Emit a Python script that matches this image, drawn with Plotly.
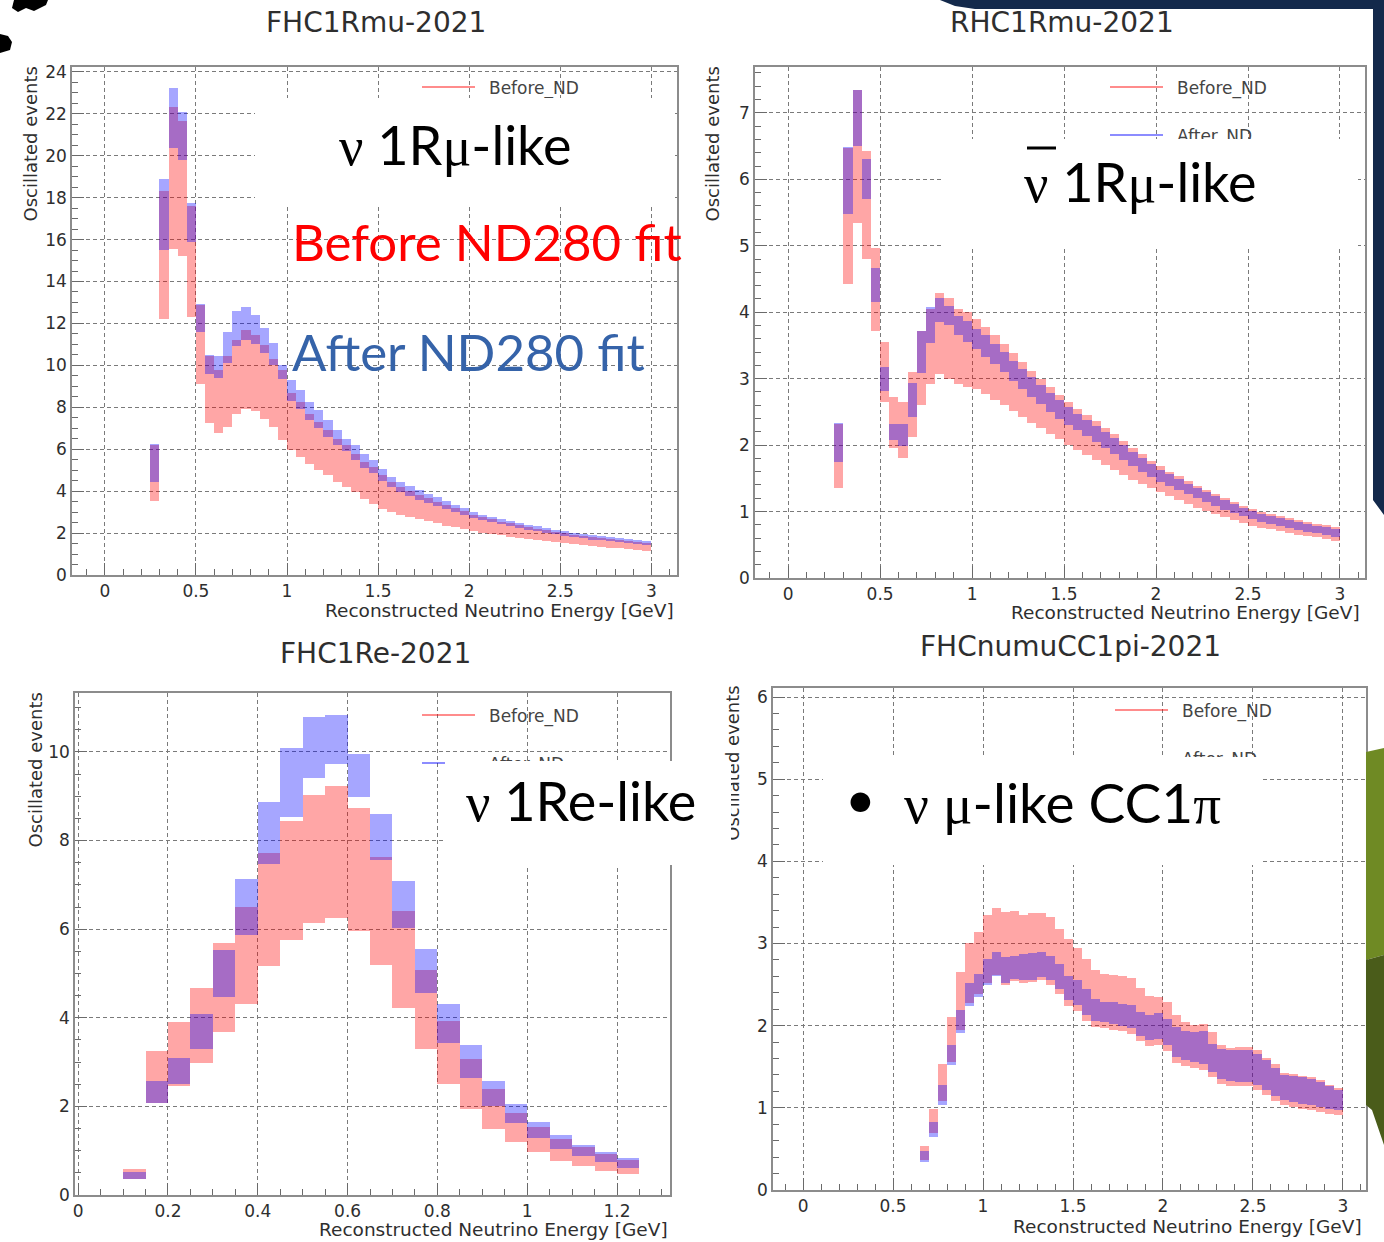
import numpy as np
import plotly.graph_objects as go

W, H = 1384, 1242


def px(x):
    return x / W


def py(y):
    return 1 - y / H


# ---------------- FHC1Rmu-2021 (bins of 0.05 GeV from 0.25 GeV) ----------------
fhc1rmu_start, fhc1rmu_width = 0.25, 0.05
fhc1rmu_before_lo = [3.52, 12.2, 15.55, 15.2, 12.3, 9.1, 7.25, 6.75, 7.07, 7.7,
                     7.94, 7.8, 7.46, 7.07, 6.46, 5.98, 5.63, 5.31, 4.99, 4.75,
                     4.43, 4.19, 3.96, 3.64, 3.4, 3.16, 3.0, 2.88, 2.77, 2.66,
                     2.56, 2.46, 2.36, 2.27, 2.18, 2.09, 2.02, 1.95, 1.89, 1.83,
                     1.77, 1.71, 1.66, 1.61, 1.56, 1.51, 1.46, 1.42, 1.38, 1.34,
                     1.31, 1.28, 1.24, 1.19, 1.14]
fhc1rmu_before_hi = [6.22, 18.3, 22.3, 21.65, 17.6, 12.9, 10.45, 9.8, 10.45, 11.2,
                     11.7, 11.45, 10.97, 10.3, 9.78, 8.66, 8.26, 7.7, 7.3, 6.9,
                     6.5, 6.19, 5.79, 5.39, 5.15, 4.75, 4.43, 4.2, 4.0, 3.82,
                     3.66, 3.5, 3.34, 3.2, 3.04, 2.88, 2.76, 2.65, 2.55, 2.46,
                     2.37, 2.29, 2.21, 2.13, 2.06, 1.99, 1.92, 1.86, 1.8, 1.75,
                     1.71, 1.68, 1.63, 1.57, 1.52]
fhc1rmu_after_lo = [4.43, 15.5, 20.35, 19.8, 15.9, 11.6, 9.6, 9.4, 10.1, 10.9,
                    11.2, 11.0, 10.6, 10.0, 9.35, 8.3, 7.9, 7.4, 7.0, 6.6,
                    6.2, 5.9, 5.5, 5.1, 4.85, 4.5, 4.2, 3.95, 3.76, 3.59,
                    3.43, 3.28, 3.13, 3.0, 2.86, 2.72, 2.61, 2.51, 2.41, 2.32,
                    2.24, 2.16, 2.08, 2.01, 1.94, 1.87, 1.81, 1.75, 1.69, 1.65,
                    1.61, 1.58, 1.53, 1.48, 1.43]
fhc1rmu_after_hi = [6.24, 18.9, 23.25, 22.1, 17.75, 12.93, 10.5, 10.45, 11.6, 12.57,
                    12.8, 12.4, 11.8, 11.05, 10.0, 9.3, 8.82, 8.26, 7.86, 7.38,
                    6.9, 6.5, 6.19, 5.79, 5.47, 5.07, 4.67, 4.45, 4.25, 4.05,
                    3.88, 3.7, 3.52, 3.36, 3.18, 3.0, 2.88, 2.77, 2.67, 2.57,
                    2.48, 2.4, 2.32, 2.24, 2.16, 2.09, 2.02, 1.95, 1.89, 1.84,
                    1.8, 1.77, 1.72, 1.66, 1.6]

# ---------------- RHC1Rmu-2021 ----------------
rhc1rmu_start, rhc1rmu_width = 0.25, 0.05
rhc1rmu_before_lo = [1.36, 4.42, 5.34, 4.8, 3.71, 2.65, 1.96, 1.81, 2.12, 2.6,
                     2.92, 3.07, 3.0, 2.92, 2.88, 2.85, 2.77, 2.68, 2.6, 2.51,
                     2.43, 2.34, 2.26, 2.17, 2.09, 2.0, 1.93, 1.85, 1.78, 1.7,
                     1.62, 1.55, 1.48, 1.41, 1.35, 1.29, 1.23, 1.17, 1.11, 1.06,
                     1.01, 0.96, 0.92, 0.87, 0.83, 0.79, 0.76, 0.73, 0.7, 0.67,
                     0.65, 0.63, 0.61, 0.58, 0.55]
rhc1rmu_before_hi = [2.32, 6.47, 7.34, 6.42, 4.97, 3.55, 2.72, 2.65, 3.1, 3.71,
                     4.05, 4.29, 4.22, 4.05, 4.0, 3.9, 3.77, 3.65, 3.52, 3.38,
                     3.25, 3.12, 3.0, 2.88, 2.76, 2.65, 2.55, 2.45, 2.36, 2.26,
                     2.16, 2.06, 1.96, 1.86, 1.76, 1.68, 1.6, 1.53, 1.46, 1.39,
                     1.33, 1.27, 1.21, 1.15, 1.09, 1.04, 1.0, 0.96, 0.93, 0.9,
                     0.87, 0.84, 0.82, 0.8, 0.77]
rhc1rmu_after_lo = [1.74, 5.48, 6.5, 5.7, 4.15, 2.82, 2.08, 1.98, 2.42, 3.08,
                    3.53, 3.85, 3.8, 3.65, 3.55, 3.45, 3.33, 3.22, 3.1, 2.97,
                    2.85, 2.73, 2.62, 2.5, 2.4, 2.3, 2.22, 2.13, 2.04, 1.95,
                    1.86, 1.77, 1.68, 1.6, 1.52, 1.45, 1.38, 1.32, 1.26, 1.2,
                    1.14, 1.08, 1.03, 0.98, 0.93, 0.89, 0.85, 0.81, 0.78, 0.75,
                    0.72, 0.69, 0.67, 0.65, 0.61]
rhc1rmu_after_hi = [2.34, 6.49, 7.34, 6.3, 4.67, 3.18, 2.32, 2.32, 2.93, 3.71,
                    4.08, 4.22, 4.09, 3.95, 3.87, 3.75, 3.65, 3.52, 3.4, 3.27,
                    3.15, 3.02, 2.9, 2.79, 2.68, 2.57, 2.47, 2.38, 2.29, 2.2,
                    2.1, 2.0, 1.9, 1.8, 1.71, 1.63, 1.56, 1.49, 1.42, 1.35,
                    1.29, 1.23, 1.17, 1.11, 1.06, 1.01, 0.97, 0.93, 0.9, 0.87,
                    0.84, 0.81, 0.79, 0.77, 0.74]

# ---------------- FHC1Re-2021 ----------------
fhc1re_start, fhc1re_width = 0.10, 0.05
fhc1re_before_lo = [0.36, 2.08, 2.45, 2.99, 3.67, 4.32, 5.17, 5.76, 6.15, 6.26,
                    5.96, 5.19, 4.23, 3.29, 2.5, 1.95, 1.49, 1.2, 0.98, 0.77,
                    0.66, 0.55, 0.47]
fhc1re_before_hi = [0.59, 3.26, 3.91, 4.67, 5.68, 6.49, 7.73, 8.44, 9.02, 9.22,
                    8.74, 7.62, 6.41, 5.08, 3.93, 3.07, 2.39, 1.86, 1.53, 1.26,
                    1.08, 0.92, 0.8]
fhc1re_after_lo = [0.36, 2.08, 2.5, 3.29, 4.46, 5.86, 7.48, 8.54, 9.42, 9.72,
                   8.98, 7.55, 6.02, 4.57, 3.44, 2.65, 2.02, 1.62, 1.28, 1.04,
                   0.87, 0.74, 0.62]
fhc1re_after_hi = [0.53, 2.58, 3.1, 4.08, 5.53, 7.13, 8.86, 10.08, 10.79, 10.83,
                   9.95, 8.59, 7.09, 5.55, 4.31, 3.38, 2.58, 2.05, 1.65, 1.35,
                   1.13, 0.98, 0.83]

# ---------------- FHCnumuCC1pi-2021 ----------------
cc1pi_start, cc1pi_width = 0.65, 0.05
cc1pi_before_lo = [0.37, 0.69, 1.08, 1.56, 1.95, 2.28, 2.38, 2.52, 2.62, 2.5,
                   2.54, 2.52, 2.53, 2.55, 2.5, 2.39, 2.24, 2.18, 2.06, 1.99,
                   1.97, 1.95, 1.93, 1.9, 1.81, 1.75, 1.77, 1.69, 1.55, 1.51,
                   1.49, 1.46, 1.37, 1.29, 1.27, 1.26, 1.26, 1.22, 1.16, 1.08,
                   1.03, 1.01, 0.99, 0.97, 0.95, 0.93, 0.91]
cc1pi_before_hi = [0.53, 0.98, 1.53, 2.11, 2.65, 3.01, 3.14, 3.35, 3.43, 3.38,
                   3.39, 3.35, 3.37, 3.37, 3.32, 3.18, 3.06, 2.95, 2.81, 2.68,
                   2.63, 2.62, 2.6, 2.58, 2.46, 2.36, 2.35, 2.29, 2.13, 2.04,
                   2.01, 2.02, 1.92, 1.76, 1.73, 1.74, 1.74, 1.7, 1.61, 1.53,
                   1.43, 1.41, 1.39, 1.37, 1.34, 1.28, 1.24]
cc1pi_after_lo = [0.34, 0.65, 1.04, 1.52, 1.91, 2.24, 2.35, 2.5, 2.6, 2.52,
                  2.57, 2.55, 2.56, 2.59, 2.55, 2.45, 2.31, 2.25, 2.13, 2.06,
                  2.04, 2.02, 2.0, 1.97, 1.88, 1.82, 1.84, 1.76, 1.62, 1.58,
                  1.56, 1.53, 1.44, 1.35, 1.33, 1.32, 1.32, 1.28, 1.22, 1.14,
                  1.09, 1.07, 1.05, 1.03, 1.01, 0.99, 0.97]
cc1pi_after_hi = [0.47, 0.83, 1.28, 1.77, 2.19, 2.52, 2.63, 2.81, 2.9, 2.83,
                  2.85, 2.87, 2.88, 2.9, 2.85, 2.75, 2.61, 2.55, 2.45, 2.33,
                  2.29, 2.29, 2.27, 2.25, 2.17, 2.13, 2.15, 2.08, 1.98, 1.94,
                  1.92, 1.93, 1.78, 1.72, 1.7, 1.7, 1.71, 1.66, 1.58, 1.49,
                  1.4, 1.39, 1.37, 1.35, 1.32, 1.26, 1.22]

RED = "rgba(255,0,0,0.35)"
BLUE = "rgba(0,0,255,0.35)"
AXIS_FONT = "DejaVu Sans"
TEXT_COL = "#2e2e2e"

panels = [
    dict(title="FHC1Rmu-2021", start=fhc1rmu_start, width=fhc1rmu_width,
         b_lo=fhc1rmu_before_lo, b_hi=fhc1rmu_before_hi,
         a_lo=fhc1rmu_after_lo, a_hi=fhc1rmu_after_hi,
         frame=(72, 677, 67, 575), xr=[-0.18, 3.14], yr=[0, 24.23],
         xdt=0.5, xminor=0.1, ydt=2, yminor=0.5,
         title_xy=(376, 23), xtitle_xy=(676, 623), ytitle_x=30,
         legend_xy=(422, 87)),
    dict(title="RHC1Rmu-2021", start=rhc1rmu_start, width=rhc1rmu_width,
         b_lo=rhc1rmu_before_lo, b_hi=rhc1rmu_before_hi,
         a_lo=rhc1rmu_after_lo, a_hi=rhc1rmu_after_hi,
         frame=(755, 1365, 67, 578), xr=[-0.18, 3.136], yr=[0, 7.69],
         xdt=0.5, xminor=0.1, ydt=1, yminor=0.2,
         title_xy=(1062, 23), xtitle_xy=(1362, 625), ytitle_x=712,
         legend_xy=(1110, 87)),
    dict(title="FHC1Re-2021", start=fhc1re_start, width=fhc1re_width,
         b_lo=fhc1re_before_lo, b_hi=fhc1re_before_hi,
         a_lo=fhc1re_after_lo, a_hi=fhc1re_after_hi,
         frame=(75, 670, 693, 1195), xr=[-0.007, 1.318], yr=[0, 11.33],
         xdt=0.2, xminor=0.05, ydt=2, yminor=0.5,
         title_xy=(376, 653), xtitle_xy=(670, 1242), ytitle_x=35,
         legend_xy=(422, 715)),
    dict(title="FHCnumuCC1pi-2021", start=cc1pi_start, width=cc1pi_width,
         b_lo=cc1pi_before_lo, b_hi=cc1pi_before_hi,
         a_lo=cc1pi_after_lo, a_hi=cc1pi_after_hi,
         frame=(773, 1366, 688, 1190), xr=[-0.167, 3.128], yr=[0, 6.11],
         xdt=0.5, xminor=0.1, ydt=1, yminor=0.2,
         title_xy=(1070, 646), xtitle_xy=(1364, 1239), ytitle_x=None,
         legend_xy=(1115, 710)),
]

fig = go.Figure()
layout = dict(
    width=W, height=H, margin=dict(l=0, r=0, t=0, b=0, autoexpand=False),
    paper_bgcolor="white", plot_bgcolor="white",
    showlegend=False, barmode="overlay", bargap=0,
)
annotations = []
shapes = []


def box_shape(x0, x1, y0, y1, fill, **kw):
    return dict(type="rect", xref="paper", yref="paper",
                x0=px(x0), x1=px(x1), y0=py(y1), y1=py(y0),
                line=dict(width=0), fillcolor=fill, layer="above", **kw)


def text_shape(text, x0, x1, yc, size, color="#444", **lab):
    label = dict(text=text, font=dict(family=AXIS_FONT, size=size, color=color),
                 textposition="middle left", padding=0)
    label.update(lab)
    return dict(type="rect", xref="paper", yref="paper",
                x0=px(x0), x1=px(x1), y0=py(yc + 12), y1=py(yc - 12),
                line=dict(width=0), fillcolor="rgba(0,0,0,0)", layer="above",
                label=label)


for i, p in enumerate(panels):
    sfx = "" if i == 0 else str(i + 1)
    xa, ya = "x" + sfx, "y" + sfx
    n = len(p["b_lo"])
    centers = p["start"] + p["width"] * (np.arange(n) + 0.5)
    b_lo, b_hi = np.array(p["b_lo"]), np.array(p["b_hi"])
    a_lo, a_hi = np.array(p["a_lo"]), np.array(p["a_hi"])
    fig.add_trace(go.Bar(x=centers, y=b_hi - b_lo, base=b_lo, width=p["width"],
                         marker=dict(color=RED, line=dict(width=0)),
                         name="Before_ND", xaxis=xa, yaxis=ya))
    fig.add_trace(go.Bar(x=centers, y=a_hi - a_lo, base=a_lo, width=p["width"],
                         marker=dict(color=BLUE, line=dict(width=0)),
                         name="After_ND", xaxis=xa, yaxis=ya))

    fx0, fx1, fy0, fy1 = p["frame"]
    common = dict(
        showgrid=True, gridcolor="#7a7a7a", griddash="4px,3px", gridwidth=1,
        showline=True, mirror=True, linecolor="#8c8c8c", linewidth=1.6,
        zeroline=False, ticks="inside", ticklen=12, tickcolor="#6a6a6a",
        tickfont=dict(family=AXIS_FONT, size=17, color=TEXT_COL),
        tickmode="linear", tick0=0,
    )
    layout["xaxis" + sfx] = dict(
        common, domain=[px(fx0), px(fx1)], range=p["xr"], dtick=p["xdt"],
        anchor=ya,
        minor=dict(ticks="inside", ticklen=6, dtick=p["xminor"], tick0=0,
                   tickcolor="#6a6a6a", showgrid=False))
    layout["yaxis" + sfx] = dict(
        common, domain=[py(fy1), py(fy0)], range=p["yr"], dtick=p["ydt"],
        anchor=xa,
        minor=dict(ticks="inside", ticklen=6, dtick=p["yminor"], tick0=0,
                   tickcolor="#6a6a6a", showgrid=False))

    tx, ty = p["title_xy"]
    annotations.append(dict(text=p["title"], x=px(tx), y=py(ty), xref="paper",
                            yref="paper", showarrow=False, xanchor="center",
                            yanchor="middle",
                            font=dict(family=AXIS_FONT, size=28, color=TEXT_COL)))
    ax, ay = p["xtitle_xy"]
    annotations.append(dict(text="Reconstructed Neutrino Energy [GeV]", x=px(ax),
                            y=py(ay), xref="paper", yref="paper", showarrow=False,
                            xanchor="right", yanchor="bottom",
                            font=dict(family=AXIS_FONT, size=18.5, color=TEXT_COL)))
    if p["ytitle_x"] is not None:
        annotations.append(dict(text="Oscillated events", x=px(p["ytitle_x"]),
                                y=py(fy0 - 2), xref="paper", yref="paper",
                                showarrow=False, textangle=-90, xanchor="center",
                                yanchor="top",
                                font=dict(family=AXIS_FONT, size=18, color=TEXT_COL)))

    # legend entries
    lx, ly = p["legend_xy"]
    for k, (lab, col) in enumerate([("Before_ND", "rgba(255,0,0,0.45)"),
                                    ("After_ND", "rgba(0,0,255,0.45)")]):
        yy = ly + 48 * k
        shapes.append(dict(type="line", xref="paper", yref="paper",
                           x0=px(lx), x1=px(lx + 53), y0=py(yy), y1=py(yy),
                           line=dict(color=col, width=2), layer="above"))
        shapes.append(text_shape(lab, lx + 64, lx + 200, yy, 17))

# y title of the CC1pi panel, partly under the 1Re label box
shapes.append(dict(type="rect", xref="paper", yref="paper",
                   x0=px(720), x1=px(742), y0=py(838), y1=py(688),
                   line=dict(width=0), fillcolor="rgba(0,0,0,0)", layer="above",
                   label=dict(text="Oscillated events", textangle=-90,
                              textposition="middle center", padding=0,
                              font=dict(family=AXIS_FONT, size=18, color=TEXT_COL))))

# white label boxes
shapes.append(box_shape(255, 675, 98, 207, "white"))
shapes.append(box_shape(943, 1358, 139, 247, "white"))
shapes.append(box_shape(445, 731, 761, 865, "white"))
shapes.append(box_shape(823, 1260, 757, 865, "white"))


# slide decorations
def path_from(points):
    s = "M " + " L ".join(f"{px(x):.5f},{py(y):.5f}" for x, y in points) + " Z"
    return s


NAVY = "#13294b"
shapes.append(dict(type="path", xref="paper", yref="paper", layer="above",
                   path=path_from([(940, 0), (955, 6), (975, 9), (1373, 9),
                                   (1373, 500), (1384, 515), (1384, 0)]),
                   fillcolor=NAVY, line=dict(width=0)))
shapes.append(dict(type="path", xref="paper", yref="paper", layer="above",
                   path=path_from([(1366, 752), (1384, 748), (1384, 955),
                                   (1366, 960)]),
                   fillcolor="#6f8a24", line=dict(width=0)))
shapes.append(dict(type="path", xref="paper", yref="paper", layer="above",
                   path=path_from([(1366, 960), (1384, 955), (1384, 1145),
                                   (1372, 1110), (1366, 1105)]),
                   fillcolor="#4a5c1a", line=dict(width=0)))
shapes.append(dict(type="path", xref="paper", yref="paper", layer="above",
                   path=path_from([(14, 0), (48, 0), (46, 5), (34, 11), (26, 8),
                                   (18, 12), (12, 8)]),
                   fillcolor="black", line=dict(width=0)))
shapes.append(dict(type="path", xref="paper", yref="paper", layer="above",
                   path=path_from([(0, 34), (8, 36), (12, 42), (10, 50), (0, 53)]),
                   fillcolor="black", line=dict(width=0)))
# bar over the antineutrino symbol
shapes.append(dict(type="line", xref="paper", yref="paper", layer="above",
                   x0=px(1027), x1=px(1056), y0=py(148), y1=py(148),
                   line=dict(color="black", width=3)))

SERIF = "Liberation Serif"
BIG = "Lato"


def g(ch):
    return f'<span style="font-family:{SERIF}">{ch}</span>'


def big(text, x, y, color="black", size=53, xanchor="left"):
    annotations.append(dict(text=text, x=px(x), y=py(y), xref="paper",
                            yref="paper", showarrow=False, xanchor=xanchor,
                            yanchor="middle",
                            font=dict(family=BIG, size=size, color=color)))


big(f"{g('ν')} 1R{g('μ')}-like", 337, 145, size=54)
big("Before ND280 fit", 290, 242, color="#ff0000", size=51)
big("After ND280 fit", 290, 352, color="#3563a9", size=51)
big(f"{g('ν')} 1R{g('μ')}-like", 1022, 182, size=54)
big(f"{g('ν')} 1Re-like", 464, 800, size=54)
big("•", 843, 797)
big(f"{g('ν')} {g('μ')}-like CC1{g('π')}", 902, 802, size=55)

layout["annotations"] = annotations
layout["shapes"] = shapes
fig.update_layout(**layout)
fig.write_html("out.html")
